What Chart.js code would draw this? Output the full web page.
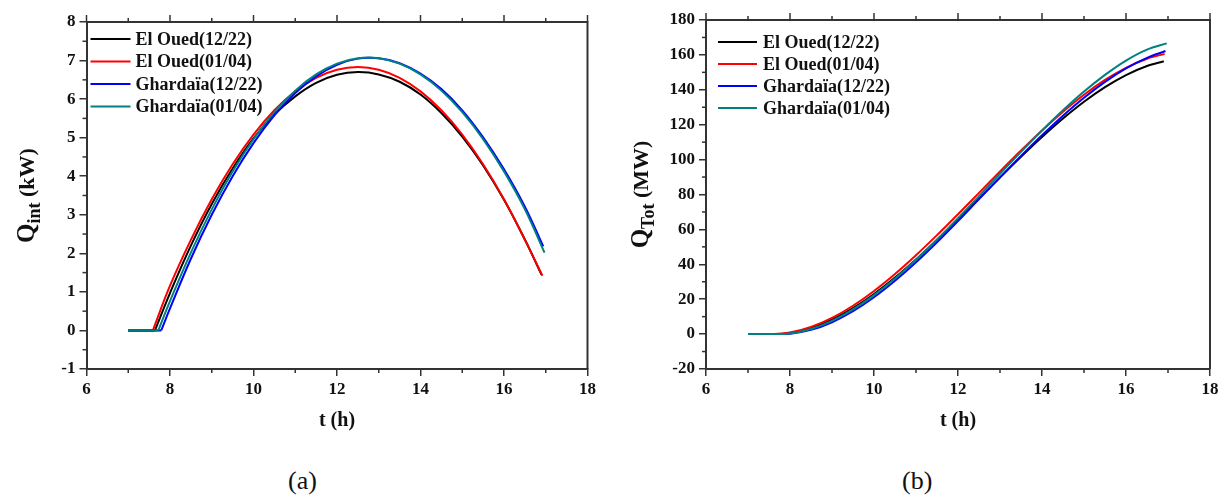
<!DOCTYPE html>
<html>
<head>
<meta charset="utf-8">
<script src="https://cdn.jsdelivr.net/npm/chart.js@4.4.1/dist/chart.umd.min.js"></script>
<style>
  html, body { margin: 0; padding: 0; background: #fff; }
  #wrap { position: relative; width: 1225px; height: 502px; overflow: hidden; background: #fff; }
  .panel { position: absolute; top: 0; height: 460px; }
  #pa { left: 0; width: 612px; }
  #pb { left: 612px; width: 613px; }
  .cap { position: absolute; top: 466px; font: 26px "Liberation Serif", "Times New Roman", serif; color: #111; line-height: 30px; }
</style>
</head>
<body>
<div id="wrap">
  <div class="panel" id="pa"><canvas id="ca" width="612" height="460"></canvas></div>
  <div class="panel" id="pb"><canvas id="cb" width="613" height="460"></canvas></div>
  <div class="cap" style="left:288px">(a)</div>
  <div class="cap" style="left:902px">(b)</div>
</div>
<script>
// Series names and line colours
const seriesLabels = ['El Oued(12/22)', 'El Oued(01/04)', 'Ghardaïa(12/22)', 'Ghardaïa(01/04)'];
const seriesColors = ['#000000', '#ff0000', '#0000ff', '#008080'];

// Hour of day (h) for each record; the second entry is when heat gain begins
const tElOued1222   = [7, 7.64, 8, 8.5, 9, 9.5, 10, 10.5, 11, 11.5, 12, 12.5, 13, 13.5, 14, 14.5, 15, 15.5, 16, 16.5, 16.9];
const tElOued0104   = [7, 7.59, 8, 8.5, 9, 9.5, 10, 10.5, 11, 11.5, 12, 12.5, 13, 13.5, 14, 14.5, 15, 15.5, 16, 16.5, 16.92];
const tGhardaia1222 = [7, 7.79, 8, 8.5, 9, 9.5, 10, 10.5, 11, 11.5, 12, 12.5, 13, 13.5, 14, 14.5, 15, 15.5, 16, 16.5, 16.94];
const tGhardaia0104 = [7, 7.72, 8, 8.5, 9, 9.5, 10, 10.5, 11, 11.5, 12, 12.5, 13, 13.5, 14, 14.5, 15, 15.5, 16, 16.5, 16.97];

// Instantaneous useful heat Q_int (kW)
const qIntElOued1222   = [0, 0, 0.97, 2.20, 3.28, 4.20, 4.98, 5.60, 6.07, 6.42, 6.63, 6.70, 6.64, 6.45, 6.12, 5.64, 5.03, 4.28, 3.39, 2.36, 1.44];
const qIntElOued0104   = [0, 0, 1.16, 2.35, 3.40, 4.31, 5.08, 5.71, 6.20, 6.55, 6.76, 6.83, 6.76, 6.55, 6.20, 5.71, 5.08, 4.31, 3.40, 2.35, 1.42];
const qIntGhardaia1222 = [0, 0, 0.57, 1.86, 3.00, 4.00, 4.86, 5.58, 6.16, 6.59, 6.89, 7.05, 7.06, 6.93, 6.66, 6.26, 5.71, 5.01, 4.18, 3.21, 2.18];
const qIntGhardaia0104 = [0, 0, 0.76, 2.02, 3.14, 4.12, 4.96, 5.66, 6.22, 6.64, 6.92, 7.06, 7.06, 6.92, 6.64, 6.22, 5.66, 4.96, 4.12, 3.14, 2.02];

// Accumulated heat Q_Tot (MW)
const qTotElOued1222   = [0, 0, 0.62, 3.42, 8.24, 14.84, 22.96, 32.37, 42.80, 54.00, 65.73, 77.73, 89.76, 101.57, 112.90, 123.50, 133.13, 141.53, 148.46, 153.65, 156.4];
const qTotElOued0104   = [0, 0, 0.93, 4.11, 9.30, 16.26, 24.74, 34.47, 45.21, 56.70, 68.70, 80.95, 93.21, 105.20, 116.70, 127.44, 137.17, 145.65, 152.61, 157.80, 160.6];
const qTotGhardaia1222 = [0, 0, 0.22, 2.42, 6.81, 13.13, 21.12, 30.54, 41.12, 52.62, 64.77, 77.34, 89.80, 102.09, 113.96, 125.15, 135.43, 144.53, 152.26, 158.34, 162.2];
const qTotGhardaia0104 = [0, 0, 0.39, 2.92, 7.58, 14.14, 22.34, 31.92, 42.64, 54.24, 66.47, 79.08, 91.81, 104.42, 116.65, 128.25, 138.97, 148.55, 156.75, 163.00, 166.6];

// Axis ranges and tick steps
const hourTicks = { min: 6, max: 18, major: 2, minor: 1 };
const qIntTicks = { min: -1, max: 8, major: 1, minor: 0.5 };
const qTotTicks = { min: -20, max: 180, major: 20, minor: 10 };

const timeSets = [tElOued1222, tElOued0104, tGhardaia1222, tGhardaia0104];
const qIntSets = [qIntElOued1222, qIntElOued0104, qIntGhardaia1222, qIntGhardaia0104];
const qTotSets = [qTotElOued1222, qTotElOued0104, qTotGhardaia1222, qTotGhardaia0104];

const serif = '"Liberation Serif", "Times New Roman", serif';
const axisColor = '#333333';

function points(ts, vs, from, to) {
  const out = [];
  for (let i = from; i < to; i++) out.push({ x: ts[i], y: vs[i] });
  return out;
}

// Q_int: the idle stretch before heat gain is drawn straight, the curve starts with a sharp knee
function intDatasets() {
  const ds = [];
  for (let i = 0; i < 4; i++) {
    const ts = timeSets[i], vs = qIntSets[i];
    const base = { borderColor: seriesColors[i], backgroundColor: seriesColors[i], borderWidth: 2,
                   pointRadius: 0, fill: false, order: 3 - i };
    ds.push(Object.assign({}, base, { label: seriesLabels[i], data: points(ts, vs, 1, ts.length),
                   tension: 0.4, legendItem: true }));
    ds.push(Object.assign({}, base, { label: seriesLabels[i] + ' idle', data: points(ts, vs, 0, 2), tension: 0 }));
  }
  return ds;
}

function totDatasets() {
  return timeSets.map((ts, i) => ({
    label: seriesLabels[i], legendItem: true,
    data: points(ts, qTotSets[i], 0, ts.length),
    borderColor: seriesColors[i], backgroundColor: seriesColors[i], borderWidth: 2,
    pointRadius: 0, fill: false, order: 3 - i, cubicInterpolationMode: 'monotone'
  }));
}

// Frame, minor ticks, mirrored top ticks, axis titles and the in-plot legend
const framePlugin = {
  id: 'frame',
  afterDraw(chart, args, o) {
    const { ctx, chartArea: a, scales: { x, y } } = chart;
    ctx.save();
    ctx.strokeStyle = axisColor;
    ctx.lineWidth = 2;
    ctx.beginPath();
    ctx.moveTo(a.left, a.top); ctx.lineTo(a.right, a.top); ctx.lineTo(a.right, a.bottom);
    ctx.stroke();

    ctx.lineWidth = 1.5;
    const xt = o.xTicks;
    for (let v = xt.min; v <= xt.max + 1e-9; v += xt.minor) {
      const px = x.getPixelForValue(v);
      const major = Math.abs(v / xt.major - Math.round(v / xt.major)) < 1e-6;
      ctx.beginPath();
      ctx.moveTo(px, a.top); ctx.lineTo(px, a.top - (major ? 7 : 4));
      if (!major) { ctx.moveTo(px, a.bottom); ctx.lineTo(px, a.bottom + 4); }
      ctx.stroke();
    }
    const yt = o.yTicks;
    for (let v = yt.min; v <= yt.max + 1e-9; v += yt.minor) {
      const major = Math.abs(v / yt.major - Math.round(v / yt.major)) < 1e-6;
      if (major) continue;
      const py = y.getPixelForValue(v);
      ctx.beginPath(); ctx.moveTo(a.left, py); ctx.lineTo(a.left - 4, py); ctx.stroke();
    }

    // x title
    ctx.fillStyle = '#111';
    ctx.font = 'bold 20px ' + serif;
    ctx.textAlign = 'center';
    ctx.textBaseline = 'middle';
    ctx.fillText(o.xTitle, (a.left + a.right) / 2, o.xTitleY);

    // rotated y title with subscript
    ctx.save();
    ctx.translate(o.yTitleX, (a.top + a.bottom) / 2 + o.yTitleShift);
    ctx.rotate(-Math.PI / 2);
    ctx.textAlign = 'left';
    ctx.textBaseline = 'alphabetic';
    let total = 0;
    o.yTitle.forEach(p => { ctx.font = p.font; p.w = ctx.measureText(p.text).width; total += p.w; });
    let cx = -total / 2;
    o.yTitle.forEach(p => { ctx.font = p.font; ctx.fillText(p.text, cx, p.dy || 0); cx += p.w; });
    ctx.restore();

    // legend
    const L = o.legend;
    ctx.font = 'bold 18px ' + serif;
    ctx.textAlign = 'left';
    ctx.textBaseline = 'middle';
    let row = 0;
    chart.data.datasets.forEach(d => {
      if (!d.legendItem) return;
      const ly = a.top + L.top + row * L.gap;
      const lx = a.left + L.left;
      ctx.strokeStyle = d.borderColor;
      ctx.lineWidth = 2;
      ctx.beginPath(); ctx.moveTo(lx, ly); ctx.lineTo(lx + L.len, ly); ctx.stroke();
      ctx.fillStyle = '#111';
      ctx.fillText(d.label, lx + L.len + L.textGap, ly + 1);
      row++;
    });
    ctx.restore();
  }
};

function axis(t, size, padding) {
  return {
    type: 'linear', min: t.min, max: t.max,
    ticks: { stepSize: t.major, color: '#111', padding: padding, font: { family: serif, size: 17, weight: 'bold' } },
    grid: { display: true, drawOnChartArea: false, drawTicks: true, tickLength: 7, color: axisColor, lineWidth: 1.5 },
    border: { display: true, color: axisColor, width: 2 },
    afterFit: size
  };
}

function makeChart(id, datasets, yTicks, pad, yWidth, plugOpts) {
  return new Chart(document.getElementById(id), {
    type: 'line',
    data: { datasets },
    options: {
      responsive: false, animation: false, devicePixelRatio: 1,
      layout: { padding: pad },
      plugins: { legend: { display: false }, tooltip: { enabled: false }, frame: plugOpts },
      scales: {
        x: axis(hourTicks, s => { s.height = 91; }, 3),
        y: axis(yTicks, s => { s.width = yWidth; }, 4)
      }
    },
    plugins: [framePlugin]
  });
}

makeChart('ca', intDatasets(), qIntTicks, { left: 0, top: 22, right: 24.5, bottom: 0 }, 86.5, {
  xTicks: hourTicks, yTicks: qIntTicks, xTitle: 't (h)', xTitleY: 421,
  yTitleX: 34, yTitleShift: 0,
  yTitle: [
    { text: 'Q', font: 'bold 25px ' + serif },
    { text: 'int', font: 'bold 18px ' + serif, dy: 6 },
    { text: ' (kW)', font: 'bold 22px ' + serif }
  ],
  legend: { left: 4, top: 17, gap: 22.5, len: 40, textGap: 5 }
});

makeChart('cb', totDatasets(), qTotTicks, { left: 0, top: 20, right: 15, bottom: 0 }, 94, {
  xTicks: hourTicks, yTicks: qTotTicks, xTitle: 't (h)', xTitleY: 421,
  yTitleX: 36, yTitleShift: 0,
  yTitle: [
    { text: 'Q', font: 'bold 25px ' + serif },
    { text: 'Tot', font: 'bold 18px ' + serif, dy: 6 },
    { text: ' (MW)', font: 'bold 22px ' + serif }
  ],
  legend: { left: 12, top: 22, gap: 22, len: 39, textGap: 6 }
});
</script>
</body>
</html>
